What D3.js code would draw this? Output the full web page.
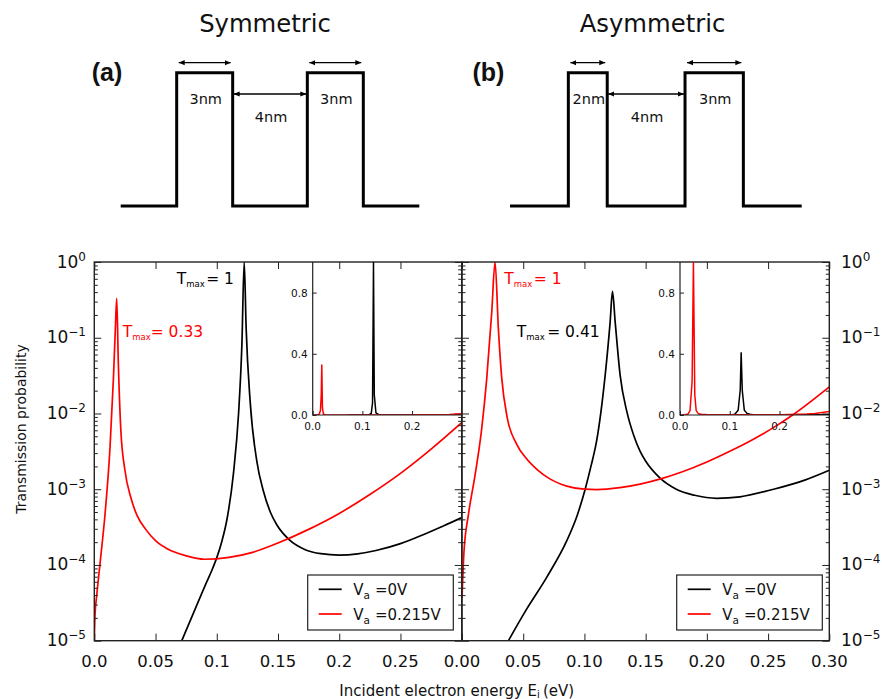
<!DOCTYPE html>
<html><head><meta charset="utf-8">
<script src="https://cdn.jsdelivr.net/npm/d3@7"></script>
<style>
body{margin:0;background:#fff}
svg{display:block}
text{font-family:"DejaVu Sans",sans-serif;fill:#111}
</style>
</head><body>
<svg id="c" width="882" height="699"></svg>
<script>
// ---------------- DATA ----------------
// Symmetric structure (a): transmission vs incident energy (eV)
const symBlackE = [0.0714,0.0837,0.0919,0.096,0.1001,0.1043,0.1083,0.1137,0.1178,0.1205,0.1224,0.124,0.1273,0.1328,0.138,0.1437,0.149,0.1593,0.1727,0.185,0.2,0.215,0.23,0.25,0.27,0.285,0.3];
const symBlackT = [1e-5,2.95e-5,6.03e-5,8.51e-5,1.26e-4,2.09e-4,3.98e-4,1.66e-3,1.0e-2,7.94e-2,1,0.132,1.41e-2,2.29e-3,9.55e-4,5.01e-4,3.39e-4,2.14e-4,1.58e-4,1.41e-4,1.35e-4,1.40e-4,1.55e-4,1.91e-4,2.57e-4,3.27e-4,4.22e-4];
const symRedE = [0,0.0006,0.002,0.0047,0.0087,0.0128,0.0156,0.0172,0.0183,0.0196,0.0216,0.025,0.03,0.035,0.042,0.05,0.06,0.075,0.09,0.11,0.13,0.15,0.175,0.2,0.225,0.25,0.275,0.3];
const symRedT = [1e-5,2.19e-5,3.98e-5,1.05e-4,4.57e-4,3.47e-3,2.88e-2,0.132,0.33,4.79e-2,6.31e-3,1.78e-3,7.59e-4,4.47e-4,2.95e-4,2.09e-4,1.62e-4,1.32e-4,1.19e-4,1.26e-4,1.48e-4,1.95e-4,2.95e-4,4.79e-4,8.51e-4,1.62e-3,3.39e-3,7.59e-3];
// Asymmetric structure (b)
const asymBlackE = [0.0379,0.0529,0.0693,0.0856,0.094,0.1006,0.1053,0.1101,0.1169,0.121,0.1229,0.1251,0.1292,0.1347,0.1405,0.1455,0.1501,0.1616,0.175,0.19,0.208,0.227,0.2545,0.28,0.3];
const asymBlackT = [1e-5,2.63e-5,6.92e-5,2.09e-4,4.47e-4,1.0e-3,2.0e-3,4.47e-3,3.16e-2,0.162,0.41,0.162,3.16e-2,1.05e-2,5.01e-3,3.16e-3,2.34e-3,1.41e-3,1.0e-3,8.32e-4,7.59e-4,7.94e-4,1.0e-3,1.32e-3,1.78e-3];
const asymRedE = [0,0.0016,0.0052,0.0106,0.0161,0.0202,0.0243,0.027,0.0297,0.0325,0.0369,0.0445,0.0529,0.0614,0.0714,0.0856,0.1,0.11,0.129,0.1455,0.163,0.18,0.2,0.22,0.238,0.255,0.271,0.3];
const asymRedT = [3.63e-5,1.48e-4,4.57e-4,1.51e-3,6.31e-3,2.88e-2,0.219,1,0.132,2.88e-2,8.91e-3,3.98e-3,2.51e-3,1.82e-3,1.38e-3,1.10e-3,1.0e-3,9.9e-4,1.05e-3,1.17e-3,1.38e-3,1.70e-3,2.29e-3,3.24e-3,4.57e-3,6.61e-3,9.77e-3,2.24e-2];

const seriesSub = ["a","a"];
const seriesLabels = ["=0V","=0.215V"];
const seriesColors = ["#000000","#ff0000"];

const xTicks = [0,0.05,0.1,0.15,0.2,0.25,0.3];
const leftXTickLabels = ["0.0","0.05","0.1","0.15","0.2","0.25"];
const rightXTickLabels = ["0.00","0.05","0.10","0.15","0.20","0.25","0.30"];
const yExponents = [0,-1,-2,-3,-4,-5];
const insetYTicks = [0,0.4,0.8];
const insetYTickLabels = ["0.0","0.4","0.8"];
const insetXTicks = [0,0.1,0.2];
const insetXTickLabels = ["0.0","0.1","0.2"];

const symTmax = ["1","0.33"];   // black, red
const asymTmax = ["1","0.41"];  // red, black

// Potential profiles (nm): lead, barrier, well, barrier, lead
const symWidths = [3,3,4,3,3];
const asymWidths = [3,2,4,3,3];
const layerIsBarrier = [0,1,0,1,0];
const symWidthLabels = ["3nm","4nm","3nm"];
const asymWidthLabels = ["2nm","4nm","3nm"];
const diagramTitles = ["Symmetric","Asymmetric"];
const diagramTags = ["(a)","(b)"];

// ---------------- DRAW ----------------
const svg = d3.select("#c");
const defs = svg.append("defs");
defs.append("marker").attr("id","ah").attr("viewBox","0 0 6 6").attr("refX",6).attr("refY",3)
  .attr("markerWidth",6).attr("markerHeight",6).attr("markerUnits","userSpaceOnUse")
  .attr("orient","auto-start-reverse")
  .append("path").attr("d","M0,0.4L6,3L0,5.6Z").attr("fill","#000");

// ---- Diagrams ----
const diagrams = [
  {widths:symWidths, labels:symWidthLabels, r0:120.7, r1:419.3, title:diagramTitles[0], tag:diagramTags[0], tcx:265, tagx:91.7},
  {widths:asymWidths, labels:asymWidthLabels, r0:510, r1:801.7, title:diagramTitles[1], tag:diagramTags[1], tcx:652.5, tagx:472.5}
];
const yd = d3.scaleLinear().domain([0,1]).range([206,72.7]);
diagrams.forEach(dg=>{
  const cum = [0]; dg.widths.forEach(w=>cum.push(cum[cum.length-1]+w));
  const xd = d3.scaleLinear().domain([0,cum[cum.length-1]]).range([dg.r0,dg.r1]);
  const pts = [];
  dg.widths.forEach((w,i)=>{pts.push([cum[i],layerIsBarrier[i]]);pts.push([cum[i+1],layerIsBarrier[i]]);});
  svg.append("path").attr("d",d3.line().x(d=>xd(d[0])).y(d=>yd(d[1]))(pts))
    .attr("fill","none").attr("stroke","#000").attr("stroke-width",3).attr("stroke-linejoin","miter");
  [1,2,3].forEach((li,k)=>{
    const xa = xd(cum[li]), xb = xd(cum[li+1]);
    const isB = layerIsBarrier[li]===1;
    const ya = isB ? 62.7 : 94;
    svg.append("line").attr("x1",xa+(isB?2:1)).attr("x2",xb-(isB?2:1)).attr("y1",ya).attr("y2",ya)
      .attr("stroke","#000").attr("stroke-width",1.3)
      .attr("marker-start","url(#ah)").attr("marker-end","url(#ah)");
    svg.append("text").attr("x",(xa+xb)/2+1).attr("y",isB?103.5:121.7).attr("text-anchor","middle")
      .attr("font-size",14.5).text(dg.labels[k]);
  });
  svg.append("text").attr("x",dg.tcx).attr("y",31.5).attr("text-anchor","middle").attr("font-size",24.3).text(dg.title);
  svg.append("text").attr("x",dg.tagx).attr("y",80.5).attr("font-size",25).attr("font-weight","bold")
    .style("font-family","'Liberation Sans',Arial,sans-serif").text(dg.tag);
});

// ---- Main panels ----
const yTop = 262, yBot = 640.7;
const y = d3.scaleLog().domain([1e-5,1]).range([yBot,yTop]);
const majorY = yExponents.map(e=>Math.pow(10,e));
const minorY = [];
for(let e=-5;e<0;e++) for(let m=2;m<=9;m++) minorY.push(m*Math.pow(10,e));

const panels = [
  {x0:94.3, x1:461.7, black:[symBlackE,symBlackT], red:[symRedE,symRedT], xLabels:leftXTickLabels,
   ix0:312.7, leftLabels:true, rightLabels:false, lg0:307.7,
   annots:[{x:176.7,y:284,c:"#000",v:symTmax[0],sp:1.5},{x:122.7,y:336.7,c:"#ff0000",v:symTmax[1],sp:0}]},
  {x0:462, x1:829.3, black:[asymBlackE,asymBlackT], red:[asymRedE,asymRedT], xLabels:rightXTickLabels,
   ix0:680, leftLabels:false, rightLabels:true, lg0:676.7,
   annots:[{x:504.3,y:284,c:"#ff0000",v:asymTmax[0],sp:1.5},{x:516.7,y:336.7,c:"#000",v:asymTmax[1],sp:2.5}]}
];

function tickAxis(gen, values, size){
  return gen.tickValues(values).tickSize(size).tickFormat("");
}

panels.forEach((p,pi)=>{
  const x = d3.scaleLinear().domain([0,0.3]).range([p.x0,p.x1]);
  const g = svg.append("g");
  const clipId = "clip"+pi;
  defs.append("clipPath").attr("id",clipId).append("rect")
    .attr("x",p.x0).attr("y",yTop).attr("width",p.x1-p.x0).attr("height",yBot-yTop);

  const line = d3.line().x(d=>x(d[0])).y(d=>y(d[1])).curve(d3.curveMonotoneX);
  [p.black,p.red].forEach((s,si)=>{
    g.append("path").attr("clip-path",`url(#${clipId})`)
      .attr("d",line(d3.zip(s[0],s[1])))
      .attr("fill","none").attr("stroke",seriesColors[si]).attr("stroke-width",1.7);
  });

  const tk = (sel)=>{sel.select(".domain").remove(); sel.selectAll(".tick line").attr("stroke","#222").attr("stroke-width",1);};
  g.append("g").attr("transform",`translate(${p.x0},0)`).call(tickAxis(d3.axisLeft(y),majorY,-7)).call(tk);
  g.append("g").attr("transform",`translate(${p.x0},0)`).call(tickAxis(d3.axisLeft(y),minorY,-3.5)).call(tk);
  g.append("g").attr("transform",`translate(${p.x1},0)`).call(tickAxis(d3.axisRight(y),majorY,-7)).call(tk);
  g.append("g").attr("transform",`translate(${p.x1},0)`).call(tickAxis(d3.axisRight(y),minorY,-3.5)).call(tk);
  g.append("g").attr("transform",`translate(0,${yBot})`).call(tickAxis(d3.axisBottom(x),xTicks,-7)).call(tk);
  g.append("g").attr("transform",`translate(0,${yTop})`).call(tickAxis(d3.axisTop(x),xTicks,-7)).call(tk);

  g.append("rect").attr("x",p.x0).attr("y",yTop).attr("width",p.x1-p.x0).attr("height",yBot-yTop)
    .attr("fill","none").attr("stroke","#222").attr("stroke-width",1.4);

  p.xLabels.forEach((lab,i)=>{
    g.append("text").attr("x",x(xTicks[i])).attr("y",666.7).attr("text-anchor","middle")
      .attr("font-size",16.5).text(lab);
  });
  const yl = (anchor,xx)=>{
    yExponents.forEach(e=>{
      const t = g.append("text").attr("x",xx).attr("y",y(Math.pow(10,e))+5.5).attr("text-anchor",anchor).attr("font-size",17);
      t.append("tspan").text("10");
      t.append("tspan").attr("dy",-7).attr("font-size",12).text(e===0?"0":"\u2212"+(-e));
    });
  };
  if(p.leftLabels) yl("end",86);
  if(p.rightLabels) yl("start",841);

  p.annots.forEach(a=>{
    const t = g.append("text").attr("x",a.x).attr("y",a.y).attr("font-size",15.5).style("fill",a.c);
    t.append("tspan").text("T");
    t.append("tspan").attr("dy",2.8).attr("font-size",8.5).style("fill",a.c).text("max");
    t.append("tspan").attr("dy",-2.8).attr("dx",a.sp).style("fill",a.c).text("= "+a.v);
  });

  // inset
  const xi = d3.scaleLinear().domain([0,0.3]).range([p.ix0,p.x1]);
  const yi = d3.scaleLinear().domain([0,1]).range([415,yTop]);
  const ic = "iclip"+pi;
  defs.append("clipPath").attr("id",ic).append("rect")
    .attr("x",p.ix0).attr("y",yTop).attr("width",p.x1-p.ix0).attr("height",415-yTop);
  const iline = d3.line().x(d=>xi(d[0])).y(d=>yi(d[1]));
  [p.black,p.red].forEach((s,si)=>{
    g.append("path").attr("clip-path",`url(#${ic})`)
      .attr("d",iline(d3.zip(s[0],s[1])))
      .attr("fill","none").attr("stroke",seriesColors[si]).attr("stroke-width",1.5);
  });
  g.append("g").attr("transform",`translate(${p.ix0},0)`).call(tickAxis(d3.axisLeft(yi),insetYTicks,-4)).call(tk);
  g.append("g").attr("transform",`translate(0,415)`).call(tickAxis(d3.axisBottom(xi),insetXTicks,-4)).call(tk);
  g.append("path").attr("d",`M${p.ix0},${yTop}V415H${p.x1}`).attr("fill","none").attr("stroke","#222").attr("stroke-width",1.2);
  insetYTicks.forEach((v,i)=>{
    g.append("text").attr("x",p.ix0-5).attr("y",yi(v)+4).attr("text-anchor","end").attr("font-size",10.5).text(insetYTickLabels[i]);
  });
  insetXTicks.forEach((v,i)=>{
    g.append("text").attr("x",xi(v)).attr("y",430).attr("text-anchor","middle").attr("font-size",10.5).text(insetXTickLabels[i]);
  });

  // legend
  const lg = g.append("g");
  lg.append("rect").attr("x",p.lg0).attr("y",575).attr("width",145.6).attr("height",55)
    .attr("fill","#fff").attr("stroke","#222").attr("stroke-width",1.2);
  [0,1].forEach(i=>{
    const ly = 589.3 + i*24.7;
    lg.append("line").attr("x1",p.lg0+11).attr("x2",p.lg0+34).attr("y1",ly).attr("y2",ly)
      .attr("stroke",seriesColors[i]).attr("stroke-width",1.7);
    const t = lg.append("text").attr("x",p.lg0+45.6).attr("y",ly+5.7).attr("font-size",15);
    t.append("tspan").text("V");
    t.append("tspan").attr("dy",4).attr("font-size",10.5).text(seriesSub[i]);
    t.append("tspan").attr("dy",-4).attr("dx",5).text(seriesLabels[i]);
  });
});

// axis titles
svg.append("text").attr("transform","translate(26,429) rotate(-90)").attr("text-anchor","middle")
  .attr("font-size",14).text("Transmission probability");
const xt = svg.append("text").attr("x",456.7).attr("y",695.5).attr("text-anchor","middle").attr("font-size",15);
xt.append("tspan").text("Incident electron energy E");
xt.append("tspan").attr("dy",2.5).attr("font-size",10).text("i");
xt.append("tspan").attr("dy",-2.5).attr("dx",3).text("(eV)");
</script>
</body></html>
